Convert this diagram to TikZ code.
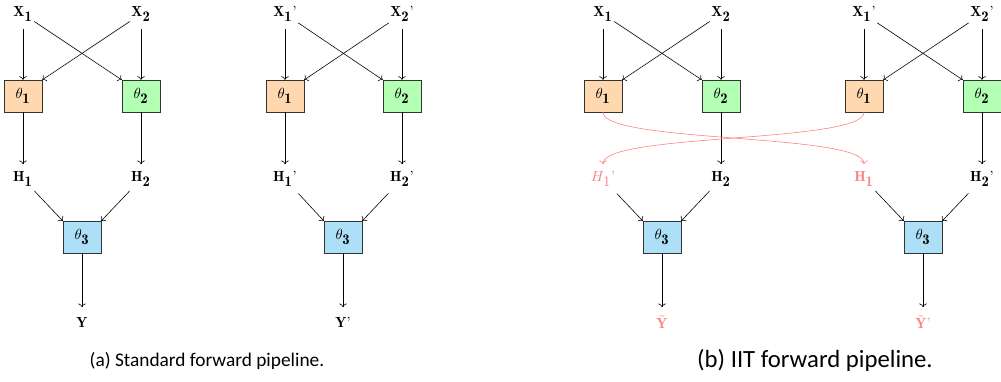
\documentclass[tikz,border=0pt]{standalone}
\usepackage{amsmath}
\usepackage{fontspec}
\setsansfont{Carlito}
\usetikzlibrary{arrows.meta,positioning}
\definecolor{Peach}{HTML}{FFD8B0}
\definecolor{Mint}{HTML}{B3FFB3}
\definecolor{Sky}{HTML}{ADE0F8}
\definecolor{Swap}{HTML}{FF8080}
\definecolor{Edge}{HTML}{333333}
% full-size bold subscript
\newcommand{\bsub}[1]{_{\textstyle\mathbf{#1}}}

\begin{document}
\begin{tikzpicture}[
  x=0.024cm,y=-0.024cm,
  var/.style={minimum height=0.7cm,inner sep=1pt},
  box/.style={draw=Edge,minimum width=0.91cm,minimum height=0.76cm,inner sep=1pt},
  arrow/.style={->},
  swap/.style={->,draw=Swap},
  capt/.style={font=\sffamily,inner sep=0pt}
]
\useasboundingbox (0,0) rectangle (1001,382);
% (a) standard pipeline, run on x
\node[var] (ax1) at (23,14) {$\mathbf{X}\bsub{1}$};
\node[var] (ax2) at (141,14) {$\mathbf{X}\bsub{2}$};
\node[box,fill=Peach] (at1) at (23,96) {$\theta\bsub{1}$};
\node[box,fill=Mint] (at2) at (141,96) {$\theta\bsub{2}$};
\node[var] (ah1) at (23,179) {$\mathbf{H}\bsub{1}$};
\node[var] (ah2) at (141,179) {$\mathbf{H}\bsub{2}$};
\node[box,fill=Sky] (at3) at (82,237) {$\theta\bsub{3}$};
\node[var] (ay) at (82,322) {$\mathbf{Y}$};
% (a) standard pipeline, run on x'
\node[var] (cx1) at (285,14) {$\mathbf{X}\bsub{1}$'};
\node[var] (cx2) at (402,14) {$\mathbf{X}\bsub{2}$'};
\node[box,fill=Peach] (ct1) at (285,96) {$\theta\bsub{1}$};
\node[box,fill=Mint] (ct2) at (402,96) {$\theta\bsub{2}$};
\node[var] (ch1) at (285,179) {$\mathbf{H}\bsub{1}$'};
\node[var] (ch2) at (402,179) {$\mathbf{H}\bsub{2}$'};
\node[box,fill=Sky] (ct3) at (343,237) {$\theta\bsub{3}$};
\node[var] (cy) at (343,322) {$\mathbf{Y}$'};
% (b) IIT pipeline, base
\node[var] (bx1) at (603,14) {$\mathbf{X}\bsub{1}$};
\node[var] (bx2) at (721,14) {$\mathbf{X}\bsub{2}$};
\node[box,fill=Peach] (bt1) at (603,96) {$\theta\bsub{1}$};
\node[box,fill=Mint] (bt2) at (721,96) {$\theta\bsub{2}$};
\node[var,text=Swap] (bh1) at (603,179) {$H_{\textstyle 1}$'};
\node[var] (bh2) at (721,179) {$\mathbf{H}\bsub{2}$};
\node[box,fill=Sky] (bt3) at (662,237) {$\theta\bsub{3}$};
\node[var,text=Swap] (by) at (662,322) {$\tilde{\mathbf{Y}}$};
% (b) IIT pipeline, source
\node[var] (dx1) at (864,14) {$\mathbf{X}\bsub{1}$'};
\node[var] (dx2) at (982,14) {$\mathbf{X}\bsub{2}$'};
\node[box,fill=Peach] (dt1) at (864,96) {$\theta\bsub{1}$};
\node[box,fill=Mint] (dt2) at (982,96) {$\theta\bsub{2}$};
\node[var,text=Swap] (dh1) at (864,179) {$\mathbf{H}\bsub{1}$};
\node[var] (dh2) at (982,179) {$\mathbf{H}\bsub{2}$'};
\node[box,fill=Sky] (dt3) at (923,237) {$\theta\bsub{3}$};
\node[var,text=Swap] (dy) at (923,322) {$\tilde{\mathbf{Y}}$'};
% connectors, same in every pipeline
\foreach \p in {a,c,b,d} {
  \draw[arrow] (\p x1) -- (\p t1);
  \draw[arrow] (\p x1) -- (\p t2.north west);
  \draw[arrow] (\p x2) -- (\p t1.north east);
  \draw[arrow] (\p x2) -- (\p t2);
  \draw[arrow] (\p t2) -- (\p h2);
  \draw[arrow] (\p h1) -- (\p t3.north west);
  \draw[arrow] (\p h2) -- (\p t3.north east);
  \draw[arrow] (\p t3) -- (\p y);
}
\draw[arrow] (at1) -- (ah1);
\draw[arrow] (ct1) -- (ch1);
% swapped first-layer outputs
\draw[swap] (bt1) to[out=-90,in=90,looseness=0.3] (dh1);
\draw[swap] (dt1) to[out=-90,in=90,looseness=0.3] (bh1);
% captions
\node[capt,font=\sffamily\fontsize{13.2}{15}\selectfont] (capa) at (207,361) {(a) Standard forward pipeline.};
\node[capt,font=\sffamily\fontsize{16.9}{19}\selectfont] (capb) at (815,360) {(b) IIT forward pipeline.};
\end{tikzpicture}
\end{document}
